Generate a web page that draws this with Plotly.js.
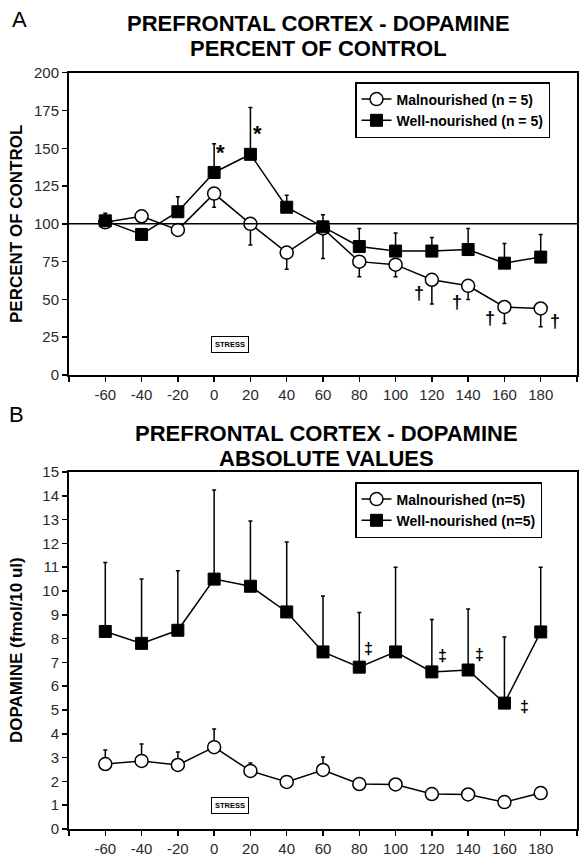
<!DOCTYPE html>
<html>
<head>
<meta charset="utf-8">
<script src="https://cdn.plot.ly/plotly-3.0.1.min.js"></script>
<style>html,body{margin:0;padding:0;background:#fff;}#chart{width:580px;height:856px;}</style>
</head>
<body>
<div id="chart"></div>
<script>
// ---- data ----
const timePoints = [-60, -40, -20, 0, 20, 40, 60, 80, 100, 120, 140, 160, 180];

// Panel A: percent of control
const malPct      = [101, 105, 96, 120, 100, 81, 97, 75, 73, 63, 59, 45, 44];
const malPctErrLo = [0, 0, 0, 9, 14, 11, 20, 10, 8, 16, 9, 11, 12];
const wellPct      = [102, 93, 108, 134, 146, 111, 98, 85, 82, 82, 83, 74, 78];
const wellPctErrHi = [5, 3, 10, 19, 31, 8, 8, 12, 12, 9, 14, 13, 15];

// Panel B: absolute values (fmol/10 ul)
const malAbs      = [2.73, 2.86, 2.69, 3.44, 2.44, 1.98, 2.48, 1.89, 1.87, 1.47, 1.45, 1.13, 1.51];
const malAbsErrHi = [0.59, 0.71, 0.55, 0.76, 0.33, 0, 0.55, 0, 0, 0, 0, 0, 0];
const wellAbs      = [8.3, 7.8, 8.35, 10.5, 10.2, 9.12, 7.44, 6.8, 7.44, 6.6, 6.68, 5.29, 8.28];
const wellAbsErrHi = [2.9, 2.7, 2.5, 3.74, 2.74, 2.94, 2.35, 2.3, 3.56, 2.2, 2.56, 2.78, 2.72];

// tick labels
const xTickVals = [-80, -60, -40, -20, 0, 20, 40, 60, 80, 100, 120, 140, 160, 180, 200];
const xTickText = ['', '-60', '-40', '-20', '0', '20', '40', '60', '80', '100', '120', '140', '160', '180', ''];
const yTickValsA = [0, 25, 50, 75, 100, 125, 150, 175, 200];
const yTickValsB = [0, 1, 2, 3, 4, 5, 6, 7, 8, 9, 10, 11, 12, 13, 14, 15];

// significance marks
const starX = [3.5, 24], starY = [147, 160];
const daggerX = [113, 134, 152, 188], daggerY = [54, 48, 38, 36];
const ddaggerX = [85, 126, 146, 171], ddaggerY = [7.6, 7.3, 7.35, 5.13];
const stressX = 9, stressYA = 20, stressYB = 1;
const controlLevel = 100;

// ---- helpers ----
const zeros = timePoints.map(() => 0);
const FONT = 'Liberation Sans, Arial, sans-serif';
const errStyle = {color: 'black', thickness: 1.5, width: 2};

function malTrace(y, hi, lo, xa, ya, leg, name) {
  return {
    x: timePoints, y: y, xaxis: xa, yaxis: ya, legend: leg, name: name,
    type: 'scatter', mode: 'lines+markers',
    line: {color: 'black', width: 1.5},
    marker: {symbol: 'circle', size: 13, color: 'white', line: {color: 'black', width: 1.5}},
    error_y: Object.assign({type: 'data', symmetric: false, array: hi, arrayminus: lo}, errStyle)
  };
}
function wellTrace(y, hi, xa, ya, leg, name) {
  return {
    x: timePoints, y: y, xaxis: xa, yaxis: ya, legend: leg, name: name,
    type: 'scatter', mode: 'lines+markers',
    line: {color: 'black', width: 1.5},
    marker: {symbol: 'square', size: 12, color: 'black', line: {color: 'black', width: 1}},
    error_y: Object.assign({type: 'data', symmetric: false, array: hi, arrayminus: zeros}, errStyle)
  };
}

const traces = [
  malTrace(malPct, zeros, malPctErrLo, 'x', 'y', 'legend', 'Malnourished (n = 5)'),
  wellTrace(wellPct, wellPctErrHi, 'x', 'y', 'legend', 'Well-nourished (n = 5)'),
  malTrace(malAbs, malAbsErrHi, zeros, 'x2', 'y2', 'legend2', 'Malnourished (n=5)'),
  wellTrace(wellAbs, wellAbsErrHi, 'x2', 'y2', 'legend2', 'Well-nourished (n=5)')
];

const tickFont = {family: FONT, size: 15, color: '#2a2a2a'};
function xAxis(anchor) {
  return {
    anchor: anchor, domain: [0, 1], range: [-80, 200],
    tickmode: 'array', tickvals: xTickVals, ticktext: xTickText,
    showline: true, linecolor: 'black', linewidth: 2, mirror: true,
    ticks: 'outside', ticklen: 5, tickwidth: 1.5, tickcolor: 'black',
    showgrid: false, zeroline: false, tickfont: tickFont
  };
}
function yAxis(anchor, domain, range, vals) {
  return {
    anchor: anchor, domain: domain, range: range,
    tickmode: 'array', tickvals: vals,
    showline: true, linecolor: 'black', linewidth: 2, mirror: true,
    ticks: 'outside', ticklen: 5, tickwidth: 1.5, tickcolor: 'black',
    showgrid: false, zeroline: false, tickfont: tickFont
  };
}

const H = 856;
const yDomA = [1 - 375 / H, 1 - 72.7 / H];
const yDomB = [1 - 829 / H, 1 - 472 / H];

const annotations = [];
function txt(x, y, text, size, opts) {
  annotations.push(Object.assign({
    xref: 'paper', yref: 'paper', x: x, y: y, text: text, showarrow: false,
    font: {family: FONT, size: size, color: 'black'}, xanchor: 'center', yanchor: 'middle'
  }, opts || {}));
}
const PW = 580 - 69 - 3;
const px = v => (v - 69) / PW;
const py = v => 1 - v / H;

// panel labels & titles
txt(px(19), py(20), 'A', 22);
txt(px(318), py(23), '<b>PREFRONTAL CORTEX - DOPAMINE</b>', 22);
txt(px(318), py(48), '<b>PERCENT OF CONTROL</b>', 22);
txt(px(16), py(414), 'B', 22);
txt(px(326), py(433), '<b>PREFRONTAL CORTEX - DOPAMINE</b>', 22);
txt(px(326), py(458), '<b>ABSOLUTE VALUES</b>', 22);
// axis titles
txt(px(16), py(224), '<b>PERCENT OF CONTROL</b>', 17, {textangle: -90});
txt(px(16), py(650), '<b>DOPAMINE (fmol/10 ul)</b>', 17, {textangle: -90});

// significance marks
starX.forEach((x, i) => annotations.push({xref: 'x', yref: 'y', x: x, y: starY[i], text: '<b>*</b>', showarrow: false, font: {family: FONT, size: 22, color: 'black'}}));
daggerX.forEach((x, i) => annotations.push({xref: 'x', yref: 'y', x: x, y: daggerY[i], text: '<b>†</b>', showarrow: false, font: {family: FONT, size: 18, color: 'black'}}));
ddaggerX.forEach((x, i) => annotations.push({xref: 'x2', yref: 'y2', x: x, y: ddaggerY[i], text: '<b>‡</b>', showarrow: false, font: {family: FONT, size: 16, color: 'black'}}));
// stress boxes
[['x', 'y', stressYA], ['x2', 'y2', stressYB]].forEach(([xr, yr, yv]) => annotations.push({
  xref: xr, yref: yr, x: stressX, y: yv, text: '<b>STRESS</b>', showarrow: false,
  font: {family: FONT, size: 7.5, color: 'black'}, bordercolor: 'black', borderwidth: 1, borderpad: 3, bgcolor: 'white'
}));

const legendStyle = {
  xanchor: 'left', yanchor: 'top', bgcolor: 'white', bordercolor: 'black', borderwidth: 1.5,
  font: {family: FONT, size: 14, color: 'black', weight: 'bold'}, tracegroupgap: 0, itemwidth: 30
};

const layout = {
  width: 580, height: 856,
  margin: {l: 69, r: 3, t: 0, b: 0},
  paper_bgcolor: 'white', plot_bgcolor: 'white',
  showlegend: true,
  xaxis: xAxis('y'), yaxis: yAxis('x', yDomA, [0, 200], yTickValsA),
  xaxis2: xAxis('y2'), yaxis2: yAxis('x2', yDomB, [0, 15], yTickValsB),
  legend: Object.assign({x: px(355), y: py(82)}, legendStyle),
  legend2: Object.assign({x: px(355), y: py(482)}, legendStyle),
  shapes: [{type: 'line', xref: 'x', yref: 'y', x0: -80, x1: 200, y0: controlLevel, y1: controlLevel, line: {color: 'black', width: 1.5}}],
  annotations: annotations
};

Plotly.newPlot('chart', traces, layout, {displayModeBar: false, staticPlot: true});
</script>
</body>
</html>
